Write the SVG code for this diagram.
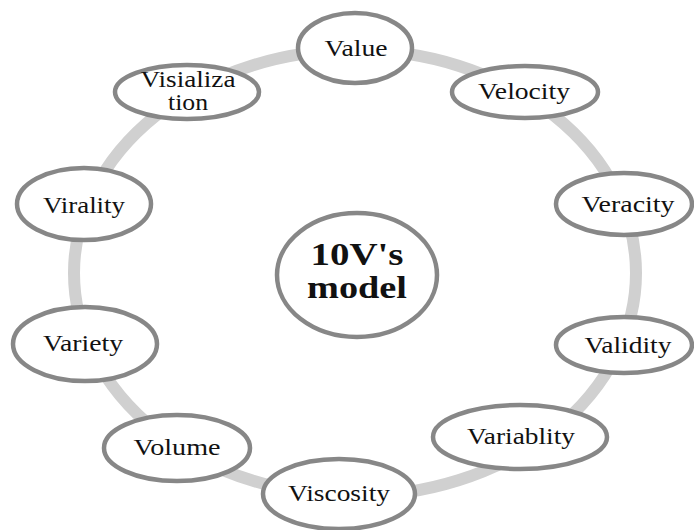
<svg xmlns="http://www.w3.org/2000/svg" width="694" height="530" viewBox="0 0 694 530" font-family="Liberation Serif, Times New Roman, serif">
<style>
.n{fill:#fff;stroke:#878787;stroke-width:4.5}
.t{font-size:23px;fill:#111;text-anchor:middle}
.c{font-size:31px;font-weight:bold;fill:#111;text-anchor:middle}
</style>
<rect width="694" height="530" fill="#fff"/>
<g id="connectors">
<ellipse cx="355" cy="273" rx="281" ry="223" fill="none" stroke="#d0d0d0" stroke-width="12"/>
</g>
<g id="center"><ellipse class="n" cx="357" cy="275" rx="80" ry="62"/>
<text class="c" x="357" y="265" textLength="93" lengthAdjust="spacingAndGlyphs">10V's</text>
<text class="c" x="357" y="298" textLength="100" lengthAdjust="spacingAndGlyphs">model</text></g>
<g id="value"><ellipse class="n" cx="355" cy="48" rx="57" ry="35"/><text class="t" x="356" y="56" textLength="63" lengthAdjust="spacingAndGlyphs">Value</text></g>
<g id="velocity"><ellipse class="n" cx="525" cy="92" rx="73" ry="26"/><text class="t" x="524" y="99" textLength="92" lengthAdjust="spacingAndGlyphs">Velocity</text></g>
<g id="veracity"><ellipse class="n" cx="624" cy="204" rx="68" ry="31"/><text class="t" x="628" y="212" textLength="93" lengthAdjust="spacingAndGlyphs">Veracity</text></g>
<g id="validity"><ellipse class="n" cx="624" cy="345" rx="68" ry="28"/><text class="t" x="628" y="353" textLength="87" lengthAdjust="spacingAndGlyphs">Validity</text></g>
<g id="variablity"><ellipse class="n" cx="520" cy="437" rx="87" ry="32"/><text class="t" x="521" y="444" textLength="108" lengthAdjust="spacingAndGlyphs">Variablity</text></g>
<g id="viscosity"><ellipse class="n" cx="339" cy="494" rx="76" ry="35"/><text class="t" x="339" y="501" textLength="102" lengthAdjust="spacingAndGlyphs">Viscosity</text></g>
<g id="volume"><ellipse class="n" cx="177" cy="448" rx="73" ry="33"/><text class="t" x="177" y="455" textLength="87" lengthAdjust="spacingAndGlyphs">Volume</text></g>
<g id="variety"><ellipse class="n" cx="85" cy="344" rx="72" ry="37"/><text class="t" x="83" y="351" textLength="80" lengthAdjust="spacingAndGlyphs">Variety</text></g>
<g id="virality"><ellipse class="n" cx="84" cy="204" rx="67" ry="36"/><text class="t" x="84" y="213" textLength="82" lengthAdjust="spacingAndGlyphs">Virality</text></g>
<g id="visialization"><ellipse class="n" cx="187" cy="92" rx="72" ry="27"/>
<text class="t" x="188" y="87" font-size="22" textLength="95" lengthAdjust="spacingAndGlyphs">Visializa</text>
<text class="t" x="188" y="110" font-size="22" textLength="40" lengthAdjust="spacingAndGlyphs">tion</text></g>
</svg>
